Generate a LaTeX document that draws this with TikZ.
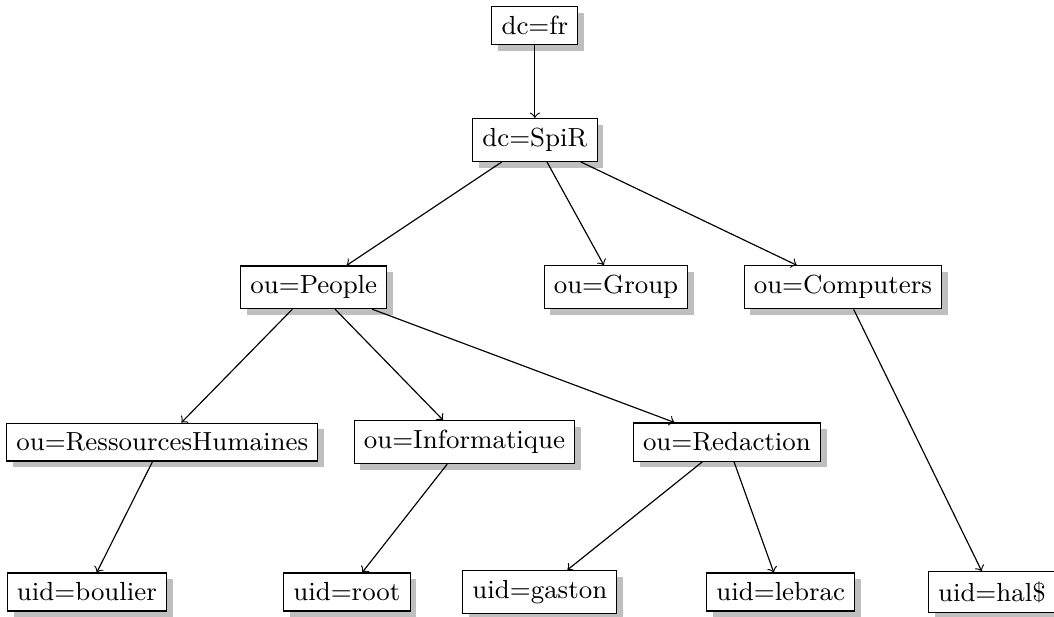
\documentclass[tikz,border=0pt]{standalone}
\usepackage{tikz}
\usetikzlibrary{shadows}
\tikzset{entry/.style = {draw, fill = white, rectangle, font = \small, drop shadow = {fill = gray!50, opacity = 1}}}

\begin{document}
\begin{tikzpicture}
	\useasboundingbox (0, 0) rectangle (12.73, -7.45);
	\node[entry] (fr) at (6.46, -0.31) {dc=fr};
	\node[entry] (spir) at (6.46, -1.69) {dc=SpiR};
	\node[entry] (people) at (3.79, -3.47) {ou=People};
	\node[entry] (group) at (7.44, -3.47) {ou=Group};
	\node[entry] (computers) at (10.18, -3.47) {ou=Computers};
	\node[entry] (rh) at (1.96, -5.34) {ou=RessourcesHumaines};
	\node[entry] (info) at (5.61, -5.34) {ou=Informatique};
	\node[entry] (redaction) at (8.78, -5.34) {ou=Redaction};
	\node[entry] (boulier) at (1.05, -7.15) {uid=boulier};
	\node[entry] (root) at (4.19, -7.15) {uid=root};
	\node[entry] (gaston) at (6.52, -7.15) {uid=gaston};
	\node[entry] (lebrac) at (9.43, -7.15) {uid=lebrac};
	\node[entry] (hal) at (11.98, -7.15) {uid=hal\$};
	\foreach \a/\b in {fr/spir, spir/people, spir/group, spir/computers, people/rh, people/info, people/redaction, rh/boulier, info/root, redaction/gaston, redaction/lebrac, computers/hal}
		\draw[->] (\a) -- (\b);
\end{tikzpicture}
\end{document}
